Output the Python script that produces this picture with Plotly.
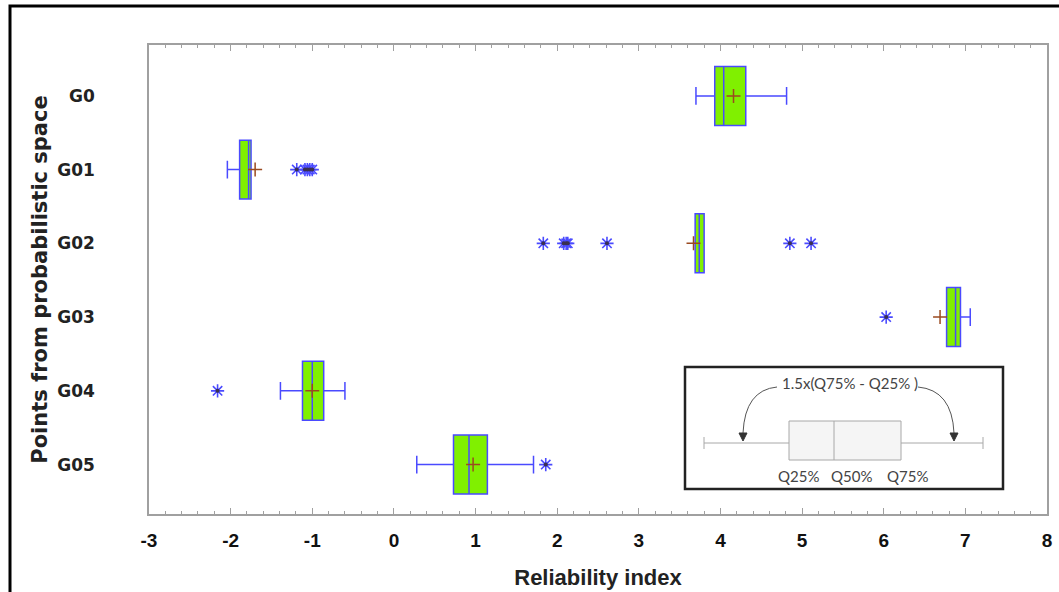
import plotly.graph_objects as go

# ---------------- data ----------------
categories = ["G0", "G01", "G02", "G03", "G04", "G05"]
positions = [0, 1, 2, 3, 4, 5]
q1 = [3.93, -1.89, 3.69, 6.77, -1.12, 0.73]
median = [4.04, -1.78, 3.74, 6.88, -1.00, 0.92]
q3 = [4.31, -1.75, 3.80, 6.94, -0.86, 1.145]
lowerfence = [3.70, -2.04, 3.69, 6.77, -1.39, 0.28]
upperfence = [4.81, -1.75, 3.80, 7.06, -0.60, 1.71]
means = [4.16, -1.70, 3.67, 6.69, -1.00, 0.97]

outlier_cat = [1, 1, 1, 1, 1, 2, 2, 2, 2, 2, 2, 2, 3, 4, 5]
outlier_val = [-1.19, -1.09, -1.06, -1.03, -1.00,
               1.83, 2.08, 2.11, 2.13, 2.61, 4.85, 5.11,
               6.03, -2.16, 1.86]

x_tickvals = [-3, -2, -1, 0, 1, 2, 3, 4, 5, 6, 7, 8]
x_ticktext = ["-3", "-2", "-1", "0", "1", "2", "3", "4", "5", "6", "7", "8"]
x_range = [-3, 8]

BLUE = "#4a4aff"
GREEN = "#80f000"
GRAY = "#a0a0a0"

fig = go.Figure()

fig.add_trace(go.Box(
    y=positions, q1=q1, median=median, q3=q3,
    lowerfence=lowerfence, upperfence=upperfence,
    orientation="h", width=0.8, whiskerwidth=0.3,
    fillcolor=GREEN, line=dict(color=BLUE, width=1.5),
    boxpoints=False, showlegend=False, hoverinfo="skip"))

# outliers (asterisks)
fig.add_trace(go.Scatter(
    x=outlier_val, y=outlier_cat, mode="markers", showlegend=False,
    marker=dict(symbol="asterisk-open", size=11, color=BLUE,
                line=dict(color=BLUE, width=1.6))))
fig.add_trace(go.Scatter(
    x=outlier_val, y=outlier_cat, mode="markers", showlegend=False,
    marker=dict(symbol="circle", size=4, color="#3a3050")))

# means
fig.add_trace(go.Scatter(
    x=means, y=positions, mode="markers", showlegend=False,
    marker=dict(symbol="cross-thin-open", size=10, color="#9a4a20",
                line=dict(color="#9a4a20", width=1.5))))

# ---------------- layout ----------------
L, R, T, B = 149, 1047, 45, 514
W, H = R - L, B - T


def px(xp):
    return (xp - L) / W


def py(yp):
    return (B - yp) / H


shapes = []
annotations = []

# outer black border
shapes.append(dict(type="rect", xref="paper", yref="paper",
                   x0=px(10), x1=px(1080), y0=py(620), y1=py(6),
                   line=dict(color="black", width=3), layer="above"))

# inset legend
shapes.append(dict(type="rect", xref="paper", yref="paper",
                   x0=px(685), x1=px(1003), y0=py(489), y1=py(367),
                   line=dict(color="#222", width=2.5), fillcolor="white"))
lg = dict(color="#a8a8a8", width=1)
shapes.append(dict(type="line", xref="paper", yref="paper",
                   x0=px(704), x1=px(983), y0=py(443), y1=py(443), line=lg))
for xc in (704, 983):
    shapes.append(dict(type="line", xref="paper", yref="paper",
                       x0=px(xc), x1=px(xc), y0=py(437), y1=py(449), line=lg))
shapes.append(dict(type="rect", xref="paper", yref="paper",
                   x0=px(789), x1=px(901), y0=py(460), y1=py(421),
                   line=lg, fillcolor="rgba(245,245,245,1)"))
shapes.append(dict(type="line", xref="paper", yref="paper",
                   x0=px(834), x1=px(834), y0=py(460), y1=py(421), line=lg))

ac = dict(color="#555", width=1)
shapes.append(dict(type="path", xref="paper", yref="paper",
                   path=f"M {px(777)},{py(387)} Q {px(745)},{py(390)} {px(743)},{py(433)}",
                   line=ac))
shapes.append(dict(type="path", xref="paper", yref="paper",
                   path=f"M {px(918)},{py(387)} Q {px(952)},{py(390)} {px(954)},{py(433)}",
                   line=ac))
for xt in (743, 954):
    shapes.append(dict(type="path", xref="paper", yref="paper",
                       path=f"M {px(xt-4)},{py(433)} L {px(xt+4)},{py(433)} L {px(xt)},{py(441)} Z",
                       fillcolor="#333", line=dict(color="#333", width=1)))

tf = dict(family="Lato, Open Sans, sans-serif", size=15, color="#444")
annotations.append(dict(xref="paper", yref="paper", x=px(850), y=py(383),
                        xanchor="center", yanchor="middle",
                        text="1.5x(Q75% - Q25% )", showarrow=False, font=tf))
for xl, t in ((798, "Q25%"), (851, "Q50%"), (907, "Q75%")):
    annotations.append(dict(xref="paper", yref="paper", x=px(xl), y=py(476),
                            xanchor="center", yanchor="middle",
                            text=t, showarrow=False, font=tf))

fig.update_layout(
    width=1059, height=592,
    margin=dict(l=L, r=1059 - R, t=T, b=592 - B),
    paper_bgcolor="white", plot_bgcolor="white",
    shapes=shapes, annotations=annotations,
    showlegend=False,
    xaxis=dict(
        range=x_range, tickvals=x_tickvals, ticktext=x_ticktext,
        automargin=False,
        showgrid=False, zeroline=False,
        showline=True, linecolor=GRAY, linewidth=1.5, mirror="ticks",
        ticks="inside", ticklen=6, tickcolor=GRAY, tickwidth=1,
        minor=dict(ticks="inside", ticklen=3, dtick=0.2, tick0=-3, tickcolor=GRAY, tickwidth=1),
        tickfont=dict(family="Liberation Sans, Arial, sans-serif",
                      size=19, color="#111", weight="bold"),
        ticklabelstandoff=8,
        title=dict(text="<b>Reliability index</b>", standoff=20,
                   font=dict(family="Liberation Sans, Arial, sans-serif", size=22, color="#222")),
    ),
    yaxis=dict(
        range=[5.67, -0.69], tickvals=positions, ticktext=categories,
        automargin=False,
        showgrid=False, zeroline=False,
        showline=True, linecolor=GRAY, linewidth=1.5, mirror=True,
        ticks="", ticklabelstandoff=49,
        tickfont=dict(family="DejaVu Sans, sans-serif", size=17, color="#222", weight="bold"),
        title=dict(text="<b>Points from probabilistic space</b>", standoff=4,
                   font=dict(family="DejaVu Sans, sans-serif", size=21, color="#222")),
    ),
)

fig.write_html("out.html")
